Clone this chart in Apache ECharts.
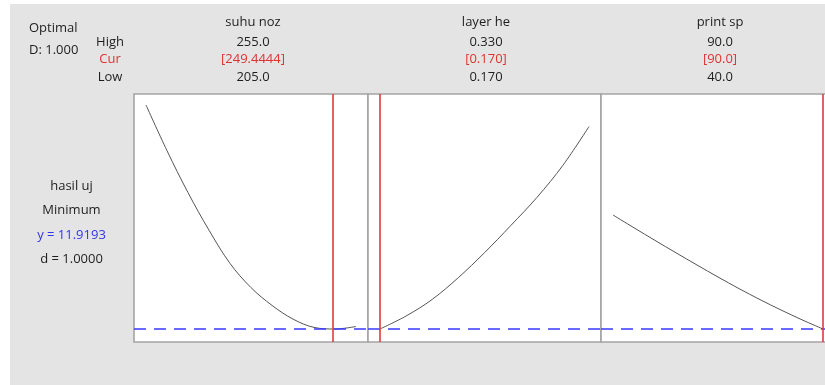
<!DOCTYPE html>
<html>
<head>
<meta charset="utf-8">
<script src="https://cdn.jsdelivr.net/npm/echarts@6/dist/echarts.min.js"></script>
<style>
html,body{margin:0;padding:0;background:#fff;}
#c{width:825px;height:385px;}
</style>
</head>
<body>
<div id="c"></div>
<script>
// ---- data ----
const factorNames = ['suhu noz', 'layer he', 'print sp'];
const highLabels = ['255.0', '0.330', '90.0'];
const curLabels = ['[249.4444]', '[0.170]', '[90.0]'];
const lowLabels = ['205.0', '0.170', '40.0'];
const highVals = [255, 0.33, 90];
const lowVals = [205, 0.17, 40];
const curVals = [249.4444, 0.170, 90.0];

const suhuX = [205, 210, 215, 220, 225, 230, 235, 240, 245, 250, 255];
const suhuY = [34.32, 29.75, 25.56, 21.80, 18.48, 16.06, 14.28, 12.91, 12.08, 11.92, 12.17];
const layerX = [0.17, 0.19, 0.21, 0.23, 0.25, 0.27, 0.29, 0.31, 0.33];
const layerY = [11.92, 13.22, 14.88, 17.06, 19.55, 22.25, 25.06, 28.29, 32.17];
const printX = [40, 45, 50, 55, 60, 65, 70, 75, 80, 85, 90];
const printY = [23.32, 22.04, 20.78, 19.54, 18.32, 17.12, 15.96, 14.86, 13.82, 12.84, 11.92];

const responseName = 'hasil uj';
const goalName = 'Minimum';
const yOptLabel = 'y = 11.9193';
const yOpt = 11.9193;
const dLabel = 'd = 1.0000';
const optimalLabel = 'Optimal';
const DLabel = 'D: 1.000';

// ---- layout ----
const gridLefts = [134, 368, 601];
const gridWidths = [234, 233, 234];
const gridTop = 94, gridHeight = 248;
const yMin = 10.62, yMax = 35.42;
const padFrac = 12 / 210;
const FONT = '"Open Sans", "Noto Sans", sans-serif';
const FS = 13;
const BLACK = '#1e1e1e', RED = '#dd3333', BLUE = '#3333ee';

const xs = [suhuX, layerX, printX];
const ys = [suhuY, layerY, printY];

const grids = [], xAxes = [], yAxes = [], series = [];
for (let i = 0; i < 3; i++) {
  grids.push({left: gridLefts[i], top: gridTop, width: gridWidths[i], height: gridHeight,
    outerBoundsMode: 'none', containLabel: false,
    show: true, backgroundColor: '#ffffff', borderColor: '#a4a4a4', borderWidth: 1.6});
  const range = highVals[i] - lowVals[i];
  xAxes.push({type: 'value', gridIndex: i, min: lowVals[i] - range * padFrac, max: highVals[i] + range * padFrac,
    show: false, splitLine: {show: false}});
  yAxes.push({type: 'value', gridIndex: i, min: yMin, max: yMax, show: false, splitLine: {show: false}});
  series.push({
    type: 'line', xAxisIndex: i, yAxisIndex: i, showSymbol: false, smooth: 0.35,
    data: xs[i].map((x, k) => [x, ys[i][k]]),
    lineStyle: {color: '#555555', width: 1},
    markLine: {
      silent: true, symbol: ['none', 'none'], label: {show: false}, animation: false,
      data: [
        {yAxis: yOpt, lineStyle: {color: '#3a3aff', width: 1.5, type: [12, 8]}},
        {xAxis: curVals[i], lineStyle: {color: '#e03a3a', width: 1.6, type: 'solid'}}
      ]
    }
  });
}

const textEl = (x, y, text, color, align) => ({
  type: 'text', x: x, y: y,
  style: {text: text, fill: color, font: FS + 'px ' + FONT, align: align || 'center', verticalAlign: 'middle'}
});

const graphics = [
  {type: 'rect', shape: {x: 10, y: 4, width: 815, height: 381}, style: {fill: '#e4e4e4'}, z: -10, silent: true},
  textEl(29, 28, optimalLabel, BLACK, 'left'),
  textEl(29, 50, DLabel, BLACK, 'left'),
  textEl(110, 42, 'High', BLACK),
  textEl(110, 59, 'Cur', RED),
  textEl(110, 77, 'Low', BLACK),
  textEl(71.5, 186, responseName, BLACK),
  textEl(71.5, 210, goalName, BLACK),
  textEl(71.5, 235, yOptLabel, BLUE),
  textEl(71.5, 259, dLabel, BLACK)
];
const colCenters = [253, 486, 720];
for (let i = 0; i < 3; i++) {
  graphics.push(textEl(colCenters[i], 22, factorNames[i], BLACK));
  graphics.push(textEl(colCenters[i], 42, highLabels[i], BLACK));
  graphics.push(textEl(colCenters[i], 59, curLabels[i], RED));
  graphics.push(textEl(colCenters[i], 77, lowLabels[i], BLACK));
}

const chart = echarts.init(document.getElementById('c'), null, {renderer: 'canvas'});
chart.setOption({
  backgroundColor: '#ffffff',
  animation: false,
  grid: grids,
  xAxis: xAxes,
  yAxis: yAxes,
  series: series,
  graphic: {elements: graphics}
});
</script>
</body>
</html>
